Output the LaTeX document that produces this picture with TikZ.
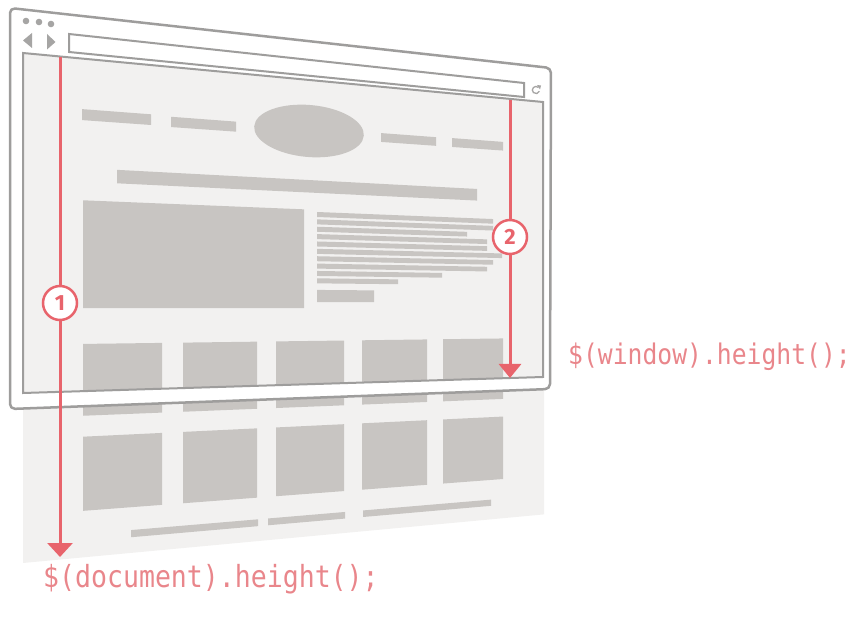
\documentclass[tikz,border=0pt]{standalone}
\usepackage{fontspec}
\usetikzlibrary{arrows.meta}

\newfontfamily\codefont[FakeStretch=0.87]{DejaVu Sans Mono}
\newfontfamily\numfont{Fira Sans}

\definecolor{framegray}{HTML}{9E9D9C}
\definecolor{pagebg}{HTML}{F2F1F0}
\definecolor{blockgray}{HTML}{C8C5C2}
\definecolor{iconGray}{HTML}{A6A5A4}
\definecolor{measurered}{HTML}{E8646C}
\definecolor{codered}{HTML}{E9868B}

% page coordinates: screen x, and v = 0 at the top of the viewport, 1 at its bottom
\pgfkeys{/pgpage/.cd, x/.store in=\pgpx, v/.store in=\pgpv}
\tikzdeclarecoordinatesystem{pg}{%
  \pgfkeys{/pgpage/.cd,#1}%
  \pgfmathsetmacro\pgpY{53+0.0942*(\pgpx-23)+\pgpv*(340-0.125*(\pgpx-23))}%
  \pgfpoint{\pgpx pt}{-\pgpY pt}}

% a grey content block from x1 to x2 and from v1 to v2 on the page
\newcommand\pgblock[4]{%
  \fill[blockgray] (pg cs:x=#1,v=#3) -- (pg cs:x=#2,v=#3)
    -- (pg cs:x=#2,v=#4) -- (pg cs:x=#1,v=#4) -- cycle;}

\tikzset{
  frameline/.style={draw=framegray, line width=2.5pt, line join=round},
  viewline/.style={draw=framegray, line width=2pt},
  icon/.style={fill=iconGray},
  measure/.style={draw=measurered, line width=3pt},
  numcircle/.style={circle, draw=measurered, line width=2.5pt, fill=white,
    minimum size=34pt, inner sep=0pt, text=measurered,
    font=\numfont\bfseries\fontsize{22}{22}\selectfont},
  codelabel/.style={text=codered, inner sep=0pt},
}

\begin{document}
\begin{tikzpicture}[x=1pt, y=-1pt]
\useasboundingbox (0,0) rectangle (855,620);

% the whole document page
\fill[pagebg] (pg cs:x=23,v=0) -- (pg cs:x=544,v=0) -- (pg cs:x=544,v=1.5)
  -- (pg cs:x=23,v=1.5) -- cycle;

% header: menu items and logo
\pgblock{82}{151}{0.152}{0.185}
\pgblock{171}{236}{0.155}{0.187}
\pgblock{381}{436}{0.157}{0.187}
\pgblock{452}{503}{0.156}{0.187}
\fill[blockgray, rotate around={-5:(309,131)}] (309,131) ellipse [x radius=55pt, y radius=26pt];

% title bar
\pgblock{117}{477}{0.329}{0.370}

% hero image and paragraph
\pgblock{83}{304}{0.426}{0.750}
\foreach \k/\xe in {0/493,1/493,2/467,3/487,4/487,5/502,6/493,7/487,8/442,9/398}{
  \pgfmathsetmacro\va{0.433+0.0243*\k}
  \pgfmathsetmacro\vb{\va+0.0165}
  \pgblock{317}{\xe}{\va}{\vb}
}
\pgblock{317}{374}{0.690}{0.730}

% two rows of tiles and the footer links
\foreach \xa/\xb in {83/162,183/257,276/344,362/427,443/503}{
  \pgblock{\xa}{\xb}{0.858}{1.074}
  \pgblock{\xa}{\xb}{1.137}{1.360}
}
\foreach \xa/\xb in {131/258,268/345,363/491}{
  \pgblock{\xa}{\xb}{1.430}{1.452}
}

% browser window: white frame around the viewport
\fill[white, even odd rule]
  {[rounded corners=5pt] (10,8) -- (551,68) -- (550,389) -- (10,409) -- cycle}
  (23,53) -- (543,102) -- (543,377) -- (23,393) -- cycle;
\draw[frameline, rounded corners=5pt] (10,8) -- (551,68) -- (550,389) -- (10,409) -- cycle;
\draw[viewline] (23,53) -- (543,102) -- (543,377) -- (23,393) -- cycle;

% address bar, window buttons, navigation and reload icons
\draw[viewline, fill=white] (69,34) -- (524,83) -- (524,97) -- (69,52) -- cycle;
\foreach \cx/\cy in {26/21,39/22,51/24}{
  \fill[icon] (\cx,\cy) circle [radius=3.3pt];
}
\fill[icon] (23,40.5) -- (32,33) -- (32,48) -- cycle;
\fill[icon] (47,34) -- (55.5,42) -- (47,49.5) -- cycle;
\draw[draw=iconGray, line width=1.3pt] (538.5,87.5) arc[start angle=45, end angle=340, radius=3.6pt];
\fill[iconGray] (537,85) -- (541,85.5) -- (540,89.5) -- cycle;

% measurement arrows
\coordinate (docTop) at (60,57);
\coordinate (docEnd) at (60,557);
\coordinate (winTop) at (510,100);
\coordinate (winEnd) at (510,378);
\draw[measure, -{Triangle[length=14pt,width=25pt]}] (docTop) -- (docEnd);
\draw[measure, -{Triangle[length=14pt,width=22pt]}] (winTop) -- (winEnd);
\node[numcircle] (numDoc) at (60,303) {1};
\node[numcircle] (numWin) at (510,237) {2};

% labels
\node[codelabel, anchor=west, font=\codefont\fontsize{28.4}{30}\selectfont]
  (winLabel) at (568,357) {\$(window).height();};
\node[codelabel, anchor=west, font=\codefont\fontsize{30.5}{32}\selectfont]
  (docLabel) at (43,579) {\$(document).height();};
\end{tikzpicture}
\end{document}
